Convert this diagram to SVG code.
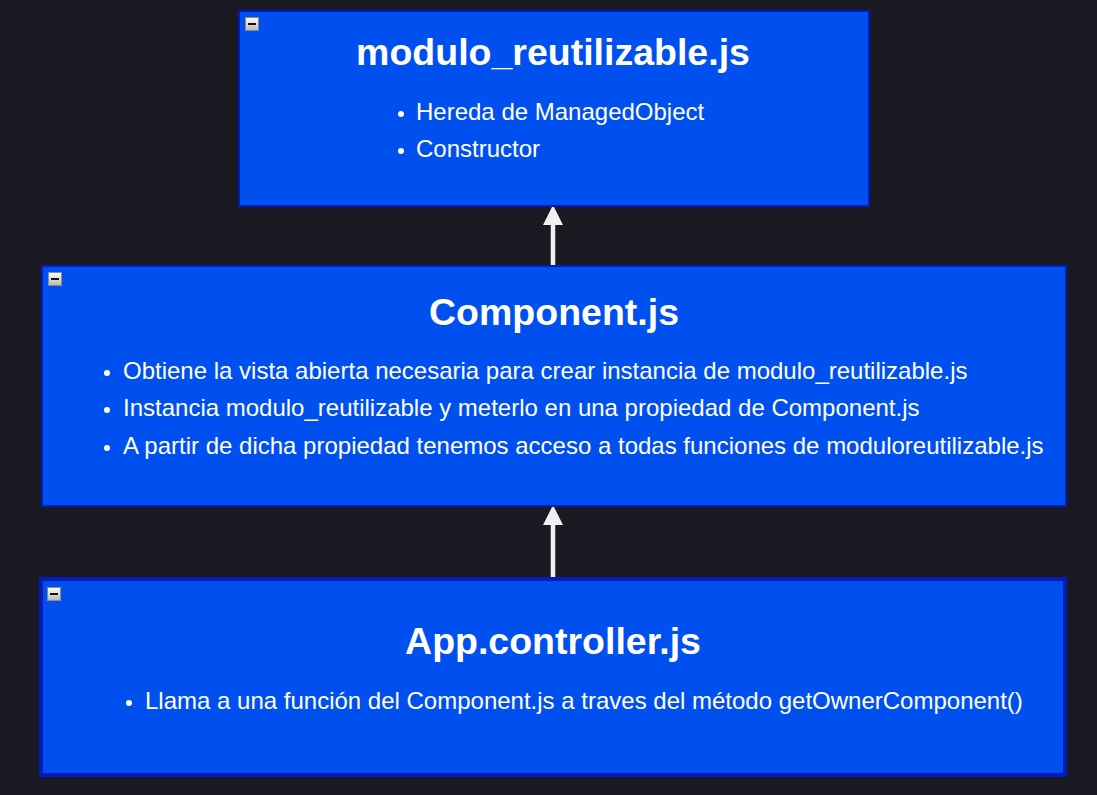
<svg xmlns="http://www.w3.org/2000/svg" width="1097" height="795" viewBox="0 0 1097 795">
<defs>
<style>
.box{fill:#0050ef;stroke:#001dbc}
.title{font-family:"Liberation Sans",Arial,sans-serif;font-weight:bold;font-size:37.5px;fill:#ffffff;text-anchor:middle}
.item{font-family:"Liberation Sans",Arial,sans-serif;font-size:24px;fill:#ffffff}
.dot{fill:#ffffff}
.conn{stroke:#f0f0f0;stroke-width:4.5;fill:none}
.head{fill:#f0f0f0}
</style>
<linearGradient id="mg" x1="0" y1="0" x2="0" y2="1">
<stop offset="0" stop-color="#ffffff"/>
<stop offset="1" stop-color="#b8b8b8"/>
</linearGradient>
<g id="minus">
<rect x="0.5" y="0.5" width="13" height="13" fill="url(#mg)" stroke="#8a8a8a" stroke-width="1"/>
<rect x="3" y="6" width="8" height="2" fill="#111111"/>
</g>
</defs>
<rect width="1097" height="795" fill="#1a1820"/>
<g id="connectors">
<line class="conn" x1="553" y1="265" x2="553" y2="222"/>
<polygon class="head" points="553,205 563,225 543,225"/>
<line class="conn" x1="553" y1="580" x2="553" y2="522"/>
<polygon class="head" points="553,505 563,525 543,525"/>
</g>
<g id="node-modulo">
<rect class="box" x="239" y="11" width="630" height="195" stroke-width="2"/>
<use href="#minus" x="245" y="17"/>
<text class="title" x="553" y="65">modulo_reutilizable.js</text>
<circle class="dot" cx="401" cy="114" r="3"/>
<text class="item" x="416" y="120">Hereda de ManagedObject</text>
<circle class="dot" cx="401" cy="151" r="3"/>
<text class="item" x="416" y="157">Constructor</text>
</g>
<g id="node-component">
<rect class="box" x="42" y="266" width="1024" height="240" stroke-width="2"/>
<use href="#minus" x="48" y="272"/>
<text class="title" x="554" y="325">Component.js</text>
<circle class="dot" cx="107" cy="373" r="3"/>
<text class="item" x="123" y="379">Obtiene la vista abierta necesaria para crear instancia de modulo_reutilizable.js</text>
<circle class="dot" cx="107" cy="410" r="3"/>
<text class="item" x="123" y="416">Instancia modulo_reutilizable y meterlo en una propiedad de Component.js</text>
<circle class="dot" cx="107" cy="448" r="3"/>
<text class="item" x="123" y="454">A partir de dicha propiedad tenemos acceso a todas funciones de moduloreutilizable.js</text>
</g>
<g id="node-app">
<rect class="box" x="41" y="579" width="1024" height="196" stroke-width="4"/>
<use href="#minus" x="47" y="587"/>
<text class="title" x="553" y="654">App.controller.js</text>
<circle class="dot" cx="129" cy="703" r="3"/>
<text class="item" x="145" y="709">Llama a una función del Component.js a traves del método getOwnerComponent()</text>
</g>
</svg>
